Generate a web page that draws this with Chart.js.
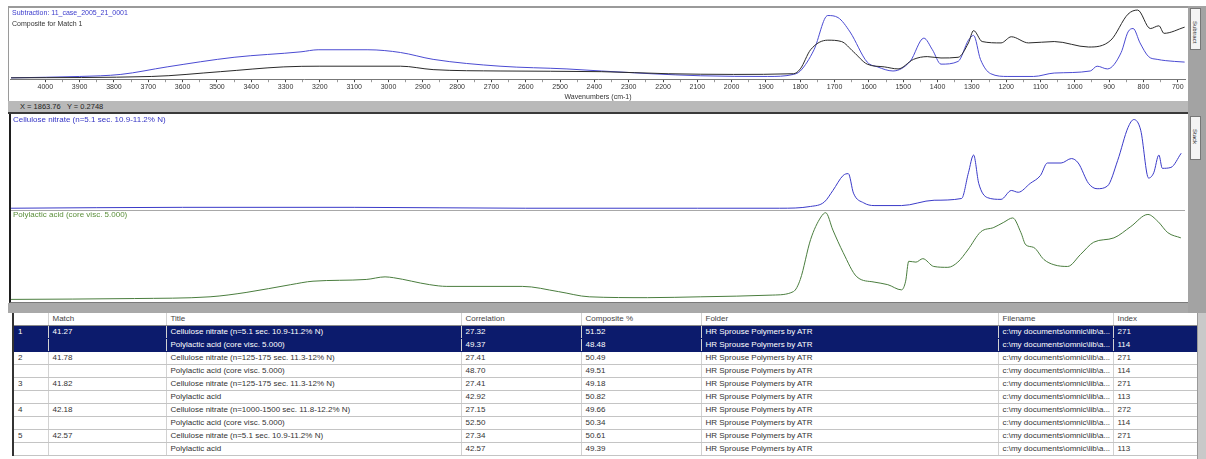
<!DOCTYPE html>
<html>
<head>
<meta charset="utf-8">
<script src="https://cdn.jsdelivr.net/npm/chart.js@4.4.1/dist/chart.umd.min.js"></script>
<style>
  html, body { margin: 0; padding: 0; }
  body {
    width: 1206px; height: 459px; position: relative; overflow: hidden;
    background: #fff; font-family: "Liberation Sans", Arial, sans-serif;
  }
  .abs { position: absolute; }
  #topFrame { left: 8px; top: 6px; width: 1180px; height: 95px; background: #fff;
    border-top: 2px solid #9a9a9a; border-left: 1px solid #9a9a9a; box-sizing: border-box; }
  #statusBar { left: 8px; top: 101px; width: 1180px; height: 11px; background: #b9b9b9;
    font-size: 7.5px; color: #222; line-height: 11px; padding-left: 12px; box-sizing: border-box; }
  #darkLine { left: 8px; top: 112px; width: 1180px; height: 2px; background: #3a3a3a; }
  #midFrame { left: 9px; top: 114px; width: 1179px; height: 189px; background: #fff;
    border-left: 2px solid #1e1e1e; border-bottom: 1px solid #7a7a7a; box-sizing: border-box; }
  #sep { left: 11px; top: 210px; width: 1174px; height: 1px; background: #a8a8a8; }
  #grayBar { left: 8px; top: 303px; width: 1198px; height: 10px; background: #a9a9a9; }
  .lbl { font-size: 8px; white-space: nowrap; }
  #rightStrip { left: 1188px; top: 6px; width: 18px; height: 307px; background: #a3a3a3; }
  .tab { position: absolute; left: 1190px; width: 11px; background: #f4f4f4; border: 1px solid #777;
    box-sizing: border-box; }
  .tab span { position: absolute; left: 1px; top: 12px; font-size: 6px; color: #333;
    writing-mode: vertical-rl; white-space: nowrap; }
  #scroll { left: 1197px; top: 313px; width: 9px; height: 146px; background: #c9c9c9;
    border-left: 1px solid #999; box-sizing: border-box; }
  #matchTable { position: absolute; left: 12px; top: 313px; width: 1185px; border-collapse: collapse;
    table-layout: fixed; font-size: 8px; color: #333; border-left: 2px solid #333; }
  #matchTable th, #matchTable td { height: 12px; padding: 0 0 0 4px; white-space: nowrap; overflow: hidden;
    text-align: left; font-weight: normal; border-right: 1px solid #d2d2d2; border-bottom: 1px solid #c4c4c4;
    line-height: 12px; }
  #matchTable th { border-bottom: 1px solid #8a8a8a; color: #444; }
  #matchTable tr.sel td { background: #0c1b6c; color: #fff; border-bottom-color: #0c1b6c; }
</style>
</head>
<body>
<div id="topFrame" class="abs"></div>
<canvas id="overlayChart" class="abs" style="left:10px;top:8px" width="1176" height="93"></canvas>
<div class="abs lbl" style="left:12px;top:9px;color:#3b3bcc;font-size:7px">Subtraction: 11_case_2005_21_0001</div>
<div class="abs lbl" style="left:12px;top:20px;color:#333;font-size:7px">Composite for Match 1</div>
<div id="statusBar" class="abs">X = 1863.76&nbsp;&nbsp;&nbsp;Y = 0.2748</div>
<div id="darkLine" class="abs"></div>
<div id="midFrame" class="abs"></div>
<canvas id="nitrateChart" class="abs" style="left:10px;top:116px" width="1176" height="94"></canvas>
<div id="sep" class="abs"></div>
<canvas id="plaChart" class="abs" style="left:10px;top:211px" width="1176" height="91"></canvas>
<div class="abs lbl" style="left:13px;top:115px;color:#3434c4">Cellulose nitrate (n=5.1 sec. 10.9-11.2% N)</div>
<div class="abs lbl" style="left:13px;top:210px;color:#5a8f3a">Polylactic acid (core visc. 5.000)</div>
<div id="grayBar" class="abs"></div>
<div id="rightStrip" class="abs"></div>
<div class="tab" style="top:8px;height:42px"><span>Subtract</span></div>
<div class="tab" style="top:116px;height:44px"><span>Stack</span></div>
<table id="matchTable">
  <colgroup>
    <col style="width:35px"><col style="width:118px"><col style="width:295px"><col style="width:120px">
    <col style="width:120px"><col style="width:297px"><col style="width:115px"><col style="width:85px">
  </colgroup>
  <thead><tr id="tableHead"></tr></thead>
  <tbody id="tableBody"></tbody>
</table>
<div id="scroll" class="abs"></div>

<script>
// wavenumber axis (cm-1), drawn high to low
const axisMin = 676;
const axisMax = 4103;
const tickLabels = [4000, 3900, 3800, 3700, 3600, 3500, 3400, 3300, 3200, 3100, 3000,
  2900, 2800, 2700, 2600, 2500, 2400, 2300, 2200, 2100, 2000,
  1900, 1800, 1700, 1600, 1500, 1400, 1300, 1200, 1100, 1000, 900, 800, 700];

// unknown sample (top panel, blue)
const sampleWn = [4100, 3900, 3780, 3645, 3450, 3255, 3205, 3060, 2965, 2870,
  2675, 2480, 2380, 2235, 2090, 1895, 1820, 1800, 1760, 1720,
  1690, 1655, 1605, 1575, 1530, 1480, 1440, 1415, 1390, 1340,
  1310, 1295, 1275, 1245, 1195, 1120, 1060, 955, 935, 905,
  865, 845, 830, 810, 785, 760, 710, 680];
const sampleAbs = [0.01, 0.03, 0.06, 0.17, 0.31, 0.39, 0.42, 0.42, 0.38, 0.28,
  0.18, 0.14, 0.11, 0.07, 0.04, 0.03, 0.06, 0.11, 0.42, 0.92,
  0.89, 0.68, 0.24, 0.17, 0.11, 0.25, 0.59, 0.42, 0.21, 0.25,
  0.56, 0.63, 0.28, 0.07, 0.03, 0.03, 0.08, 0.11, 0.18, 0.14,
  0.38, 0.68, 0.73, 0.52, 0.32, 0.28, 0.25, 0.24];

// composite for match 1 (top panel, black)
const compositeWn = [4100, 3690, 3490, 3305, 3200, 2965, 2870, 2675, 2380, 2185,
  1995, 1820, 1800, 1770, 1720, 1680, 1645, 1605, 1555, 1515,
  1470, 1430, 1390, 1340, 1310, 1295, 1270, 1215, 1185, 1135,
  1060, 960, 895, 845, 817, 780, 755, 740, 680];
const compositeAbs = [0.01, 0.03, 0.10, 0.17, 0.18, 0.18, 0.13, 0.11, 0.10, 0.07,
  0.06, 0.07, 0.14, 0.42, 0.56, 0.54, 0.39, 0.21, 0.17, 0.14,
  0.28, 0.32, 0.30, 0.31, 0.52, 0.70, 0.54, 0.52, 0.61, 0.52,
  0.54, 0.46, 0.56, 0.94, 1.00, 0.73, 0.77, 0.66, 0.75];

// cellulose nitrate reference (middle, blue)
const nitrateWn = [4100, 3600, 3100, 2600, 2100, 1860, 1770, 1730, 1705, 1675,
  1660, 1645, 1615, 1585, 1505, 1410, 1330, 1310, 1295, 1280,
  1255, 1215, 1185, 1165, 1130, 1100, 1080, 1040, 1010, 990,
  960, 935, 905, 875, 845, 828, 808, 785, 770, 755,
  745, 720, 690];
const nitrateAbs = [0, 0.01, 0.01, 0, 0, 0, 0.02, 0.07, 0.20, 0.37,
  0.39, 0.17, 0.06, 0.03, 0.03, 0.09, 0.11, 0.40, 0.60, 0.28,
  0.12, 0.10, 0.20, 0.18, 0.28, 0.37, 0.51, 0.51, 0.56, 0.51,
  0.28, 0.22, 0.25, 0.54, 0.91, 1.00, 0.88, 0.34, 0.40, 0.60,
  0.45, 0.46, 0.62];

// polylactic acid reference (middle, green)
const plaWn = [4100, 3740, 3520, 3415, 3285, 3220, 3065, 3010, 2985, 2880,
  2830, 2610, 2505, 2415, 2245, 2090, 1880, 1820, 1800, 1770,
  1740, 1726, 1705, 1675, 1635, 1585, 1545, 1505, 1493, 1484,
  1463, 1443, 1411, 1370, 1341, 1312, 1274, 1236, 1207, 1181,
  1157, 1143, 1120, 1090, 1061, 1021, 983, 945, 886, 837,
  787, 758, 729, 691];
const plaAbs = [0, 0.01, 0.03, 0.08, 0.17, 0.21, 0.23, 0.26, 0.25, 0.17,
  0.15, 0.15, 0.09, 0.03, 0.02, 0.03, 0.05, 0.09, 0.23, 0.69,
  0.95, 1.00, 0.80, 0.54, 0.26, 0.20, 0.17, 0.11, 0.21, 0.44,
  0.43, 0.47, 0.38, 0.37, 0.43, 0.57, 0.78, 0.83, 0.89, 0.94,
  0.77, 0.63, 0.60, 0.46, 0.40, 0.38, 0.52, 0.66, 0.71, 0.84,
  0.98, 0.90, 0.77, 0.71];

// match list
const tableHeaders = ['', 'Match', 'Title', 'Correlation', 'Composite %', 'Folder', 'Filename', 'Index'];
const matchRank = ['1', '', '2', '', '3', '', '4', '', '5', ''];
const matchScore = ['41.27', '', '41.78', '', '41.82', '', '42.18', '', '42.57', ''];
const matchTitle = [
  'Cellulose nitrate (n=5.1 sec. 10.9-11.2% N)',
  'Polylactic acid (core visc. 5.000)',
  'Cellulose nitrate (n=125-175 sec. 11.3-12% N)',
  'Polylactic acid (core visc. 5.000)',
  'Cellulose nitrate (n=125-175 sec. 11.3-12% N)',
  'Polylactic acid',
  'Cellulose nitrate (n=1000-1500 sec. 11.8-12.2% N)',
  'Polylactic acid (core visc. 5.000)',
  'Cellulose nitrate (n=5.1 sec. 10.9-11.2% N)',
  'Polylactic acid',
];
const correlation = ['27.32', '49.37', '27.41', '48.70', '27.41', '42.92', '27.15', '52.50', '27.34', '42.57'];
const compositePct = ['51.52', '48.48', '50.49', '49.51', '49.18', '50.82', '49.66', '50.34', '50.61', '49.39'];
const folderName = 'HR Sprouse Polymers by ATR';
const fileName = 'c:\\my documents\\omnic\\lib\\a...';
const libIndex = ['271', '114', '271', '114', '271', '113', '272', '114', '271', '113'];

Chart.defaults.font.family = '"Liberation Sans", Arial, sans-serif';

function toPoints(wn, abs) {
  return wn.map((x, i) => ({ x, y: abs[i] }));
}

function lineSet(data, color) {
  return {
    data,
    borderColor: color,
    borderWidth: 1,
    pointRadius: 0,
    cubicInterpolationMode: 'monotone',
    fill: false,
  };
}

function baseOptions(yMin, yMax) {
  return {
    responsive: false,
    animation: false,
    devicePixelRatio: 1,
    layout: { padding: 0 },
    plugins: { legend: { display: false }, tooltip: { enabled: false } },
    scales: {
      x: { type: 'linear', reverse: true, min: axisMin, max: axisMax, display: false },
      y: { min: yMin, max: yMax, display: false },
    },
  };
}

function renderOverlay() {
  const labelled = new Set(tickLabels);
  // minor marks halfway between labelled ticks
  const allTicks = tickLabels.concat(tickLabels.slice(1).map((v) => v + 50)).sort((a, b) => b - a);

  const options = baseOptions(-0.01, 1.03);
  options.scales.x = {
    type: 'linear',
    reverse: true,
    min: axisMin,
    max: axisMax,
    afterBuildTicks: (scale) => {
      scale.ticks = allTicks.map((value) => ({ value }));
    },
    ticks: { autoSkip: false, maxRotation: 0, padding: 1, color: '#333',
      font: { size: 7 }, callback: (v) => (labelled.has(v) ? String(v) : '') },
    grid: {
      drawOnChartArea: false,
      tickLength: 3,
      color: (ctx) => (ctx.tick && labelled.has(ctx.tick.value) ? '#444' : '#999'),
    },
    border: { color: '#777' },
    title: { display: true, text: 'Wavenumbers (cm-1)', color: '#333', font: { size: 7 }, padding: 0 },
  };
  new Chart(document.getElementById('overlayChart'), {
    type: 'line',
    data: {
      datasets: [
        lineSet(toPoints(compositeWn, compositeAbs), '#2a2a2a'),
        lineSet(toPoints(sampleWn, sampleAbs), '#4b4bd2'),
      ],
    },
    options,
  });
}

function renderReferences() {
  new Chart(document.getElementById('nitrateChart'), {
    type: 'line',
    data: { datasets: [lineSet(toPoints(nitrateWn, nitrateAbs), '#3a3ac8')] },
    options: baseOptions(-0.02, 1.04),
  });
  new Chart(document.getElementById('plaChart'), {
    type: 'line',
    data: { datasets: [lineSet(toPoints(plaWn, plaAbs), '#4a7d3e')] },
    options: baseOptions(-0.03, 1.02),
  });
}

function renderTable() {
  document.getElementById('tableHead').innerHTML = tableHeaders.map((h) => `<th>${h}</th>`).join('');
  document.getElementById('tableBody').innerHTML = matchTitle
    .map((title, i) => `
      <tr class="${i < 2 ? 'sel' : ''}">
        <td>${matchRank[i]}</td>
        <td>${matchScore[i]}</td>
        <td>${title}</td>
        <td>${correlation[i]}</td>
        <td>${compositePct[i]}</td>
        <td>${folderName}</td>
        <td>${fileName}</td>
        <td>${libIndex[i]}</td>
      </tr>`)
    .join('');
}

document.addEventListener('DOMContentLoaded', () => {
  renderOverlay();
  renderReferences();
  renderTable();
});
</script>
</body>
</html>
